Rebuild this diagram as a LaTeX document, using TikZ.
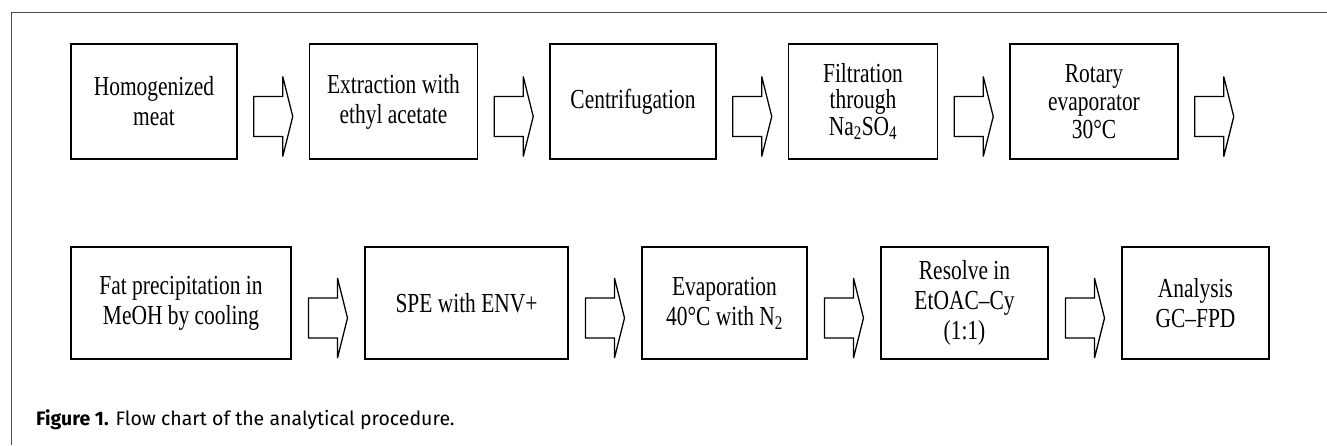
\documentclass[tikz,border=0pt]{standalone}
\usepackage{fontspec}
\setmainfont{Liberation Serif}[FakeStretch=0.78]
\newfontfamily\capfont{Fira Sans}
\usetikzlibrary{positioning,calc}
\tikzset{
  procbox/.style={draw=black,line width=1.5pt,align=center,minimum height=115pt,
                  inner sep=2pt,font=\fontsize{27.5}{30}\selectfont},
  fatarr/.style={draw=black,line width=1.3pt,miter limit=6},
  framel/.style={draw=black!70,line width=1pt}
}
% hollow block arrow in the gap between two boxes
\newcommand{\blockarrow}[2]{%
  \path ($(#1.east)!0.5!(#2.west)$) ++(0,15) coordinate (am);
  \draw[fatarr] ($(am)+(-19.5,-20)$) -- ++(29,0) -- ++(0,-20) -- ($(am)+(19.5,0)$)
    -- ($(am)+(9.5,40)$) -- ++(0,-20) -- ++(-29,0) -- cycle;
}

\begin{document}
\begin{tikzpicture}[x=1pt,y=-1pt]
\useasboundingbox (0,0) rectangle (1327,445);
\draw[framel] (1327,12) -- (11,12) -- (11,445);

% upper row
\node[procbox, minimum width=166pt] (homog) at (154,101.5) {Homogenized\\meat};
\node[procbox, minimum width=168pt, right=71pt of homog] (extr) {Extraction with\\ethyl acetate};
\node[procbox, minimum width=166pt, right=71pt of extr] (centr) {Centrifugation};
\node[procbox, minimum width=149pt, right=71pt of centr,
      font=\fontsize{27.5}{26.5}\selectfont] (filtr) {Filtration\\through\\Na\textsubscript{2}SO\textsubscript{4}};
\node[procbox, minimum width=168pt, right=71pt of filtr,
      font=\fontsize{27.5}{28}\selectfont] (rotev) {Rotary\\evaporator\\30°C};
\coordinate[right=71pt of rotev] (rotout);

% lower row
\node[procbox, minimum width=220pt, minimum height=112pt] (fatpr) at (181,303) {Fat precipitation in\\MeOH by cooling};
\node[procbox, minimum width=203pt, minimum height=112pt, right=72.5pt of fatpr] (spe) {SPE with ENV+};
\node[procbox, minimum width=165pt, minimum height=112pt, right=72.5pt of spe] (evap) {Evaporation\\40°C with N\textsubscript{2}};
\node[procbox, minimum width=167pt, minimum height=112pt, right=72.5pt of evap] (resol) {Resolve in\\EtOAC–Cy\\(1:1)};
\node[procbox, minimum width=147pt, minimum height=112pt, right=72.5pt of resol] (analy) {Analysis\\GC–FPD};

% block arrows
\blockarrow{homog}{extr}
\blockarrow{extr}{centr}
\blockarrow{centr}{filtr}
\blockarrow{filtr}{rotev}
\blockarrow{rotev}{rotout}
\blockarrow{fatpr}{spe}
\blockarrow{spe}{evap}
\blockarrow{evap}{resol}
\blockarrow{resol}{analy}

\node[anchor=base west, inner sep=0pt, font=\capfont\fontsize{19.5}{22}\selectfont] (capt) at (36,425)
  {\textbf{Figure 1.} Flow chart of the analytical procedure.};
\end{tikzpicture}
\end{document}
